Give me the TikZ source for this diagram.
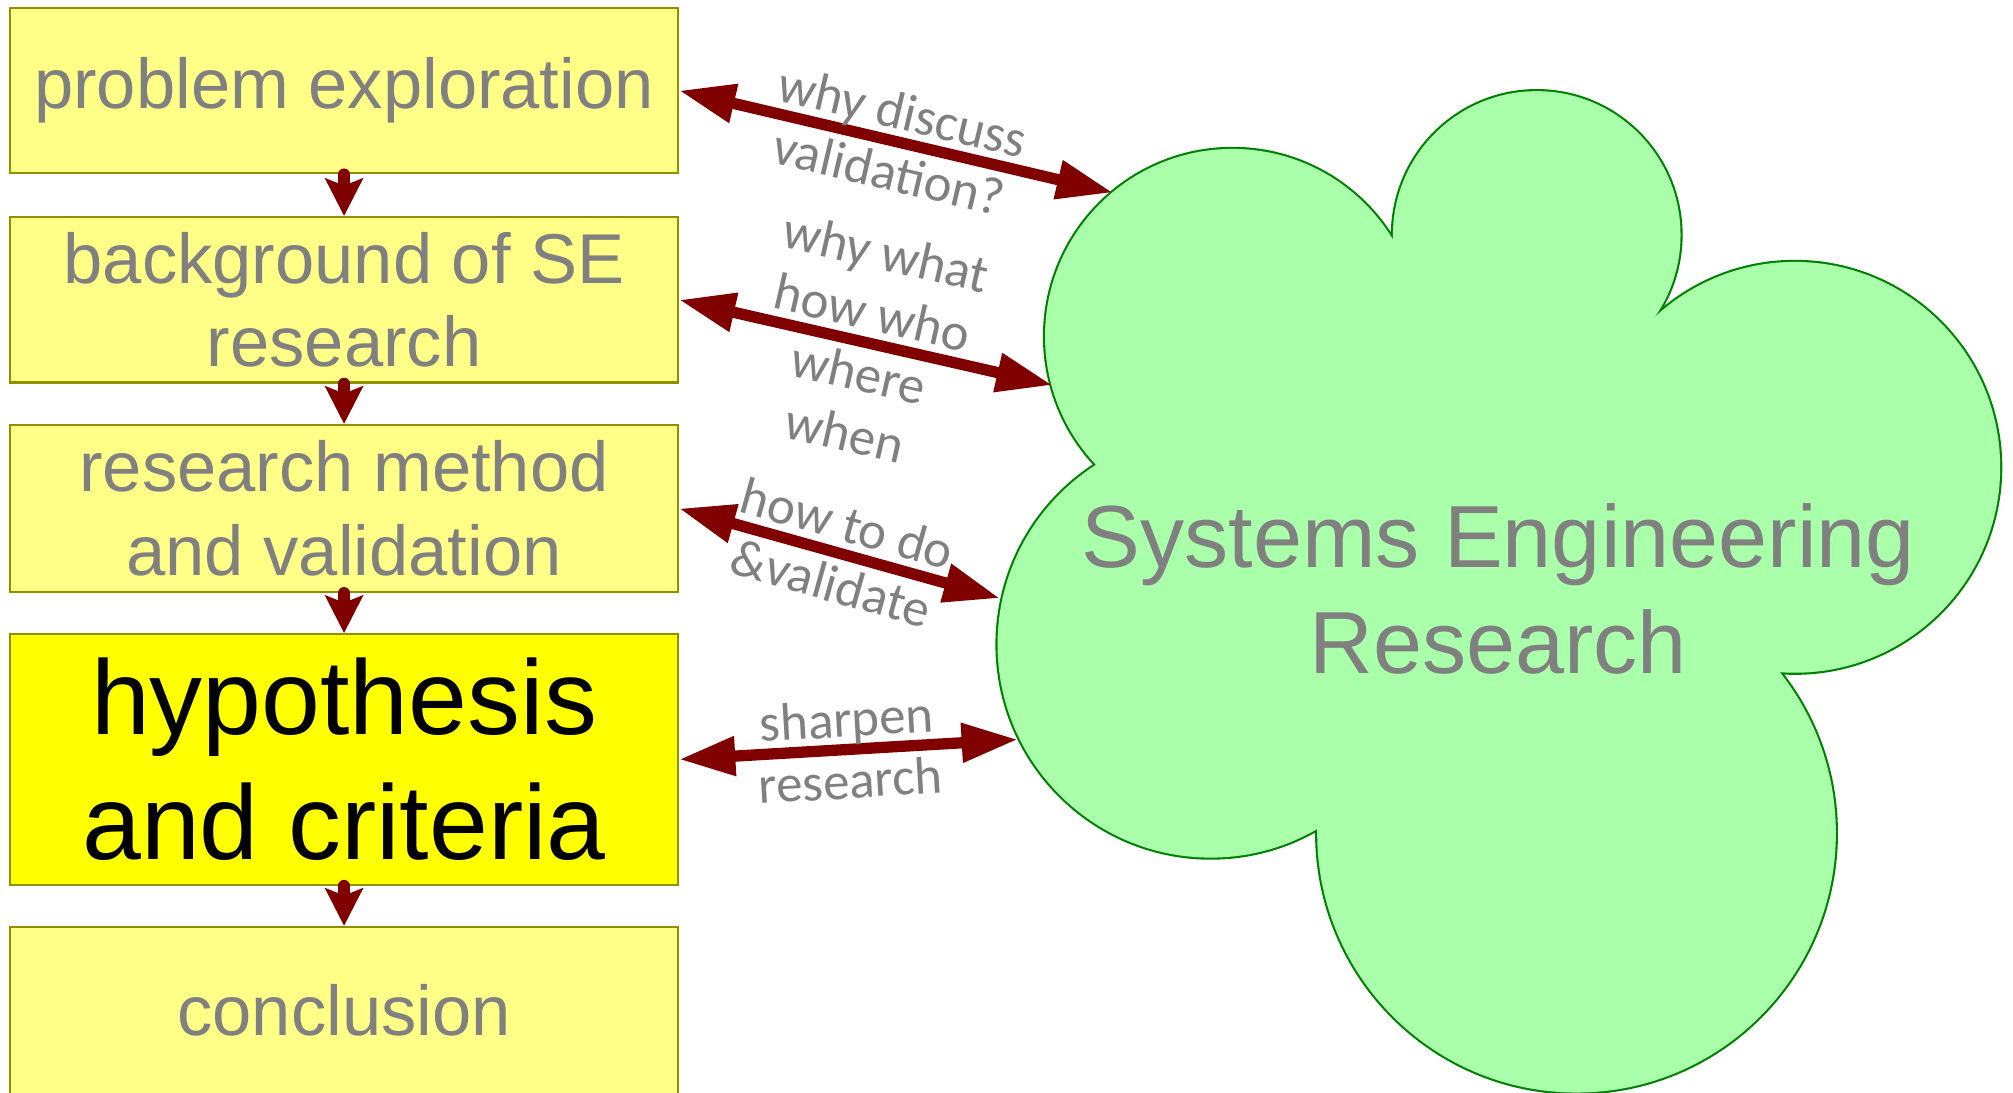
\documentclass[tikz,border=0pt]{standalone}
\usepackage{fontspec}
\setmainfont{Liberation Sans}
\newfontfamily\linkFont{Carlito}
\usetikzlibrary{arrows.meta}
\tikzstyle{sketch} = [x = .3639pt, y = -.3639pt]
\definecolor{boxFill}{HTML}{FFFF88}
\definecolor{boxLine}{HTML}{8F8F00}
\definecolor{keyFill}{HTML}{FFFF00}
\definecolor{arrowRed}{HTML}{800000}
\definecolor{cloudFill}{HTML}{AAFFAA}
\definecolor{cloudLine}{HTML}{008000}
\definecolor{textGray}{HTML}{808080}
\tikzstyle{stepBox} = [draw=boxLine, fill=boxFill, line width=.6pt, minimum width=189.2pt, inner sep=0pt, align=center, text=textGray, font=\fontsize{20}{23.6}\selectfont]
\tikzstyle{keyBox} = [stepBox, fill=keyFill, text=black, font=\fontsize{30}{35.4}\selectfont]
\tikzstyle{stepArrow} = [color=arrowRed, line width=3.3pt, line cap=round, -{Stealth[length=10.6pt, width=10.6pt, inset=2pt]}]
\tikzstyle{linkArrow} = [color=arrowRed, line width=3.2pt, {Triangle[length=16pt, width=10.5pt]}-{Triangle[length=16pt, width=10.5pt]}]
\tikzstyle{linkText} = [midway, sloped, inner sep=0pt, align=center, text=textGray, font=\linkFont\fontsize{15}{17.5}\selectfont]
\tikzstyle{cloudText} = [inner sep=0pt, align=center, text=textGray, font=\fontsize{25}{30}\selectfont]
% bumps of the cloud: centre x / centre y / radius
\newcommand{\cloudBumps}{960/262/146, 1197/183/112, 1398/364/160, 1228/649/202, 943/502/166}

\begin{document}
\begin{tikzpicture}[sketch]
  \useasboundingbox (0,0) rectangle (1568,851);
  \clip (0,0) rectangle (1568,851);

  % cloud: stroke every bump, then cover the inner halves
  \foreach \cx/\cy/\r in \cloudBumps {
    \draw [cloudLine, line width=1.2pt] (\cx,\cy) circle [radius=\r];
  }
  \foreach \cx/\cy/\r in \cloudBumps {
    \fill [cloudFill] (\cx,\cy) circle [radius=\r];
  }
  \fill [cloudFill] (960,262) -- (1197,183) -- (1398,364) -- (1228,649) -- (943,502) -- cycle;
  \node [cloudText] (seResearch) at (1167,459) {Systems Engineering\\Research};

  \coordinate (cloudWhy) at (867,150);
  \coordinate (cloudWho) at (820,300);
  \coordinate (cloudHow) at (779,466);
  \coordinate (cloudSharpen) at (793,576);

  % steps of the paper
  \node [stepBox, minimum height=46.9pt] (problem) at (268,70.5) {problem exploration};
  \node [stepBox, minimum height=46.9pt] (background) at (268,233.5) {background of SE\\research};
  \node [stepBox, minimum height=47.3pt] (method) at (268,396) {research method\\and validation};
  \node [keyBox, minimum height=71pt] (hypothesis) at (268,591.5) {hypothesis\\and criteria};
  \node [stepBox, minimum height=47.3pt] (conclusion) at (268,787) {conclusion};

  \draw [stepArrow] (problem.south) -- (background.north);
  \draw [stepArrow] (background.south) -- (method.north);
  \draw [stepArrow] (method.south) -- (hypothesis.north);
  \draw [stepArrow] (hypothesis.south) -- (conclusion.north);

  \draw [linkArrow] (problem.east) -- (cloudWhy) node [linkText] {why discuss\\validation?};
  \draw [linkArrow] (background.east) -- (cloudWho) node [linkText] {why what\\how who\\where\\when};
  \draw [linkArrow] (method.east) -- (cloudHow) node [linkText] {how to do\\\&validate};
  \draw [linkArrow] (hypothesis.east) -- (cloudSharpen) node [linkText] {sharpen\\research};
\end{tikzpicture}
\end{document}
